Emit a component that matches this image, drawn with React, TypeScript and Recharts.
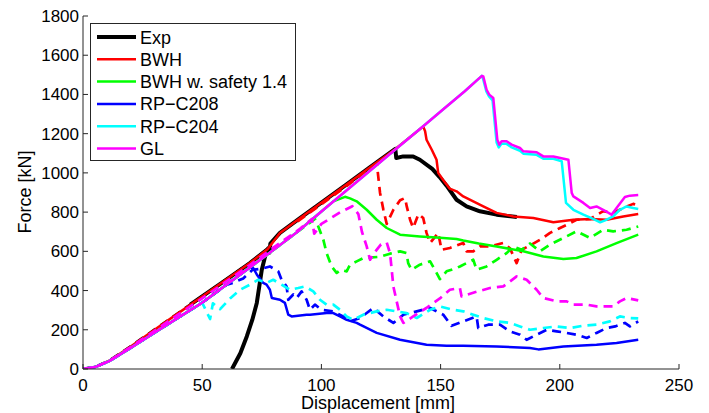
import React from 'react';
import { LineChart, Line, XAxis, YAxis } from 'recharts';

type P = [number, number];

const X_TICKS = [0, 50, 100, 150, 200, 250];
const Y_TICKS = [0, 200, 400, 600, 800, 1000, 1200, 1400, 1600, 1800];
const LEGEND_NAMES = ['Exp', 'BWH', 'BWH w. safety 1.4', 'RP\u2212C208', 'RP\u2212C204', 'GL'];

// shared elastic branches
const ELASTIC_LOWER: P[] = [[0,0],[5,10],[11,40],[20,108],[30,185],[40,262],[50,338],[60,428],[70,518],[80,608],[90,700],[100,803],[110,905],[120,1007],[131,1119],[142.7,1238],[151,1323],[160,1415],[167.3,1495]];
const ELASTIC_UPPER: P[] = [[0,0],[5,10],[11,42],[20,115],[30,200],[40,285],[50,370],[60,455],[70,540],[77.5,612]];

const EXP: P[] = [[62.5,0],[66,80],[68.7,166],[71,250],[72.9,337],[75,506],[76.5,580],[77.7,615],[78.2,592],[78.6,640],[82.6,694],[90,760],[100,848],[110,936],[120,1025],[131,1122],[131.4,1076],[134.3,1084],[138.5,1084],[141.3,1067],[146.5,1020],[149.5,980],[152.5,935],[156.7,863],[160.9,829],[166.5,804],[173.5,787],[182,775]];
const EXP_EARLY: P[] = [[45,328],[50,370],[60,455],[70,540],[77.5,612]];

const BWH: P[] = [[0,0],[5,10],[11,42],[20,115],[30,200],[40,285],[50,370],[60,455],[70,540],[77.5,612],[82.6,694],[90,760],[100,848],[110,936],[120,1025],[131,1122],[142.7,1237],[143.5,1212],[144.1,1169],[146.3,1118],[148.3,1067],[149,1000],[151,965],[153.8,920],[156.7,906],[159.5,880],[163.7,855],[167.9,829],[173.5,796],[180.5,778],[188.9,770],[197.3,748],[205.7,761],[212.7,765],[219.6,761],[226.6,778],[232.9,790]];
const BWH_D: P[] = [[90,752],[100,840],[110,928],[120,1018],[123.3,1042],[124.6,898],[126,812],[127.4,740],[130.2,812],[133,860],[135.1,872],[135.8,829],[137.2,761],[138.5,719],[140.7,790],[142.7,770],[144.1,694],[145.6,643],[149,694],[150.4,608],[153.9,617],[159.5,643],[160.9,600],[163.7,600],[166.5,625],[170.7,625],[176.3,643],[179.1,615],[181.9,540],[184,608],[187.5,630],[191.7,659],[195.9,694],[200.1,719],[202.9,735],[207,761],[212.7,765],[218.2,805],[222.4,796],[226.6,821],[230.8,842],[232.6,835]];

const SAFE: P[] = [[105,855],[109.9,878],[112,870],[114.8,855],[119,812],[123.2,761],[127.4,719],[133,685],[141.3,676],[148.3,670],[156.7,663],[159.5,655],[166,640],[173.5,625],[184.7,600],[193.1,574],[201.5,561],[207,566],[215.4,600],[223.8,642],[232.9,685]];
const SAFE_D: P[] = [[97.3,765],[98.7,727],[100.8,660],[102.2,590],[104.3,523],[106.4,490],[108,505],[110.6,498],[112,532],[114.8,549],[117.6,566],[124.6,572],[128.8,588],[133,600],[135.7,591],[136.4,540],[137.8,506],[141.3,532],[145.6,549],[148.3,490],[149.7,458],[152.5,498],[156.7,515],[158.1,523],[163.7,557],[165.1,506],[169.3,523],[173.5,557],[177.7,591],[180.5,625],[184,608],[187.5,640],[191.7,600],[195.9,634],[201.5,668],[207,702],[212.7,668],[218.2,710],[222.4,702],[228,710],[232.9,727]];

const C208: P[] = [[71.4,515],[73,480],[75.6,439],[77,430],[78.4,404],[79.2,362],[82.6,353],[84.7,337],[86.1,277],[87.5,268],[93.8,277],[95.2,277],[102.2,285],[105,285],[107.8,268],[110.6,251],[114.8,235],[116.2,226],[123.2,184],[133,149],[144.1,124],[152.5,119],[159.5,119],[173.5,115],[187.5,107],[191,100],[201.5,115],[215.4,124],[223.8,133],[232.9,149]];
const C208_D: P[] = [[63,440],[67.2,462],[71,505],[75,512],[78.4,523],[81.9,498],[83.3,455],[85.4,421],[86.1,353],[88.2,380],[89.6,362],[91.7,396],[93.8,353],[95.2,302],[97.3,328],[100.1,302],[105,294],[109.1,268],[112,243],[116.2,260],[121.8,311],[126,268],[130.2,235],[134.4,277],[140,294],[145.6,311],[151.1,277],[154.6,220],[159.5,243],[165.1,268],[165.8,209],[170,226],[174.9,226],[179.1,192],[183.3,175],[186.1,149],[190.3,175],[194.5,200],[198.7,192],[202.9,184],[207,175],[211.3,158],[215.4,184],[219.6,209],[223.2,217],[227.3,235],[229.4,217],[232.9,243]];

const C204: P[] = [[167.8,1480],[169.2,1415],[170.3,1390],[171.8,1370],[173.5,1155],[174.4,1130],[175.5,1148],[177.7,1148],[179.8,1130],[183.3,1113],[184.7,1098],[190.3,1092],[193.1,1072],[197.3,1072],[200.8,1059],[202.6,847],[205.7,812],[209.9,787],[214,765],[216.9,748],[219,758],[222.4,778],[225.2,812],[228,829],[230.8,821],[232.9,816]];
const C204_D: P[] = [[53.3,255],[54.5,335],[57.5,305],[61.7,360],[65.9,404],[70,430],[73.5,455],[77,439],[79.8,455],[83.3,430],[86.8,404],[90.3,413],[93.1,421],[96.6,396],[99.4,353],[102.2,328],[105,328],[107.8,302],[110.6,268],[113.4,251],[117.6,277],[123.2,294],[127.4,302],[131.5,294],[135.7,285],[140,260],[145.6,302],[149.7,319],[155.3,302],[159.5,294],[163.7,277],[167.9,260],[173.5,243],[179.1,235],[183.3,217],[187.5,200],[193.1,209],[198.7,217],[204.3,209],[209.9,221],[215.4,226],[221,243],[225.2,268],[229.4,260],[232.9,258]];

const GL: P[] = [[167.9,1492],[169.3,1424],[170.4,1399],[172.1,1382],[173.8,1169],[174.6,1144],[175.6,1161],[177.7,1161],[179.8,1144],[183.3,1127],[184.7,1110],[190.3,1105],[193.1,1084],[197.3,1084],[203.6,1067],[205,898],[205.7,880],[209.9,847],[212.7,821],[215.4,829],[218.2,812],[221.7,787],[223.8,821],[227.3,877],[229.4,884],[232.9,887]];
const GL_D: P[] = [[0,0],[5,10],[11,41],[20,112],[30,195],[40,278],[50,360],[60,445],[70,530],[80,620],[91,715],[96,765],[97,690],[100,740],[104,770],[108,800],[113,830],[115.5,790],[117,700],[119,625],[120.4,557],[122,590],[125,635],[127.4,645],[128.8,590],[130.2,420],[133,268],[134.4,235],[138.5,268],[144,311],[149.7,360],[153.9,404],[158.1,413],[158.8,370],[164,390],[170.7,413],[176.3,421],[181.9,472],[186.1,455],[190.3,404],[193.1,362],[198.7,345],[202.9,345],[205.7,328],[211.3,328],[215.4,319],[222.4,319],[225.2,345],[228,362],[232.9,350]];

const toData = (pts: P[]) => pts.map(([x, y]) => ({ x, y }));
const lowerUpTo = (xmax: number) => ELASTIC_LOWER.filter(([x]) => x <= xmax);

const FONT = '"Liberation Sans", Arial, Helvetica, sans-serif';
const DASH = '9 6';

const XTick = (props: any) => {
  const { x, y, payload } = props;
  return (
    <g>
      <line x1={x} x2={x} y1={y} y2={y - 5} stroke="#262626" strokeWidth={1} />
      <text x={x} y={y + 21.5} textAnchor="middle" fontSize={17} fontFamily={FONT} fill="#000">{payload.value}</text>
    </g>
  );
};
const YTick = (props: any) => {
  const { x, y, payload } = props;
  return (
    <g>
      <line x1={x} x2={x + 5} y1={y} y2={y} stroke="#262626" strokeWidth={1} />
      <text x={x - 4} y={y + 6} textAnchor="end" fontSize={17} fontFamily={FONT} fill="#000">{payload.value}</text>
    </g>
  );
};

const series = [
  { key: 'exp', data: EXP, color: '#000000', w: 4, dash: undefined },
  { key: 'expEarly', data: EXP_EARLY, color: '#000000', w: 4, dash: undefined },
  { key: 'expDash', data: ELASTIC_UPPER, color: '#000000', w: 3, dash: DASH },
  { key: 'bwh', data: BWH, color: '#ff0000', w: 2.5, dash: undefined },
  { key: 'bwhD', data: BWH_D, color: '#ff0000', w: 2.7, dash: DASH },
  { key: 'safe', data: [...lowerUpTo(100), ...SAFE], color: '#00ff00', w: 2.5, dash: undefined },
  { key: 'safeD', data: [...lowerUpTo(90), ...SAFE_D], color: '#00ff00', w: 2.7, dash: DASH },
  { key: 'c208', data: [...lowerUpTo(70), ...C208], color: '#0000ff', w: 2.5, dash: undefined },
  { key: 'c208D', data: [...lowerUpTo(60), ...C208_D], color: '#0000ff', w: 2.7, dash: DASH },
  { key: 'c204', data: [...ELASTIC_LOWER, ...C204], color: '#00ffff', w: 2.5, dash: undefined },
  { key: 'c204D', data: [...lowerUpTo(50), ...C204_D], color: '#00ffff', w: 2.7, dash: DASH },
  { key: 'glD', data: GL_D, color: '#ff00ff', w: 2.7, dash: DASH },
  { key: 'gl', data: [...ELASTIC_LOWER, ...GL], color: '#ff00ff', w: 2.5, dash: undefined },
];

const LEGEND_COLORS = ['#000000', '#ff0000', '#00ff00', '#0000ff', '#00ffff', '#ff00ff'];
const LEGEND_WIDTHS = [4, 2.5, 2.5, 2.5, 2.5, 2.5];

export default function App() {
  return (
    <div style={{ position: 'absolute', left: 0, top: 0, width: 709, height: 413, background: '#fff' }}>
      <LineChart width={709} height={413} margin={{ top: 16, right: 30, bottom: 14, left: 23 }}>
        <XAxis
          type="number"
          dataKey="x"
          domain={[0, 250]}
          ticks={X_TICKS}
          interval={0}
          height={30}
          tickSize={0}
          tickMargin={0}
          tickLine={false}
          axisLine={{ stroke: '#262626', strokeWidth: 1 }}
          tick={<XTick />}
          allowDataOverflow
        />
        <YAxis
          type="number"
          dataKey="y"
          domain={[0, 1800]}
          ticks={Y_TICKS}
          interval={0}
          width={60}
          tickSize={0}
          tickMargin={0}
          tickLine={false}
          axisLine={{ stroke: '#262626', strokeWidth: 1 }}
          tick={<YTick />}
          allowDataOverflow
        />
        {series.map((s) => (
          <Line
            key={s.key}
            data={toData(s.data)}
            dataKey="y"
            type="linear"
            stroke={s.color}
            strokeWidth={s.w}
            strokeDasharray={s.dash}
            dot={false}
            activeDot={false}
            isAnimationActive={false}
            strokeLinejoin="round"
          />
        ))}
      </LineChart>
      <svg width={709} height={413} style={{ position: 'absolute', left: 0, top: 0, pointerEvents: 'none' }}>
        <text x={378} y={409} textAnchor="middle" fontSize={18} fontFamily={FONT} fill="#000">Displacement [mm]</text>
        <text x={31} y={192} textAnchor="middle" fontSize={18} fontFamily={FONT} fill="#000" transform="rotate(-90 31 192)">Force [kN]</text>
        <rect x={90.5} y={23.5} width={205} height={137} fill="#fff" stroke="#262626" strokeWidth={1} />
        {LEGEND_NAMES.map((n, i) => (
          <g key={n}>
            <line x1={97} x2={136} y1={37 + i * 22.3} y2={37 + i * 22.3} stroke={LEGEND_COLORS[i]} strokeWidth={LEGEND_WIDTHS[i]} />
            <text x={140} y={43.5 + i * 22.3} fontSize={18} fontFamily={FONT} fill="#000">{n}</text>
          </g>
        ))}
      </svg>
    </div>
  );
}
